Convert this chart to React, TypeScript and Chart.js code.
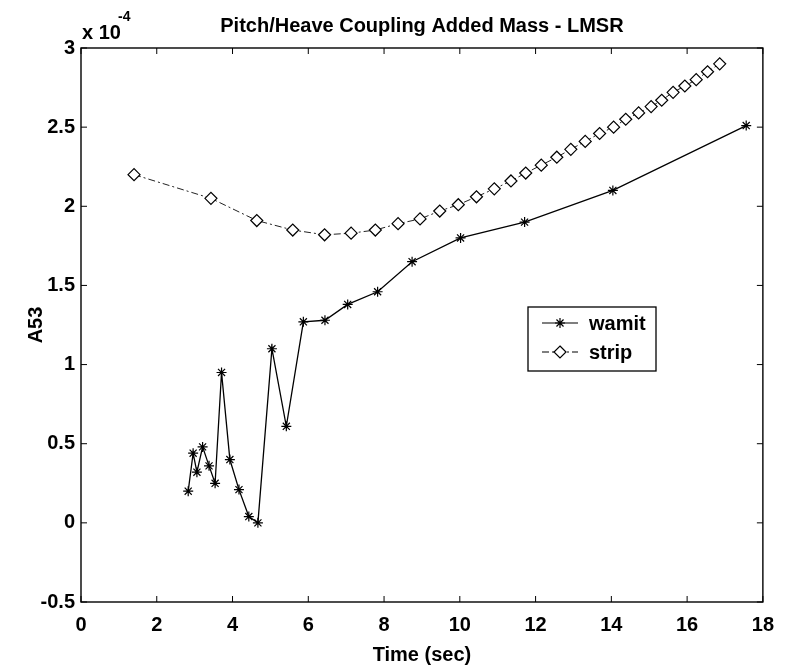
import React, { useEffect, useRef } from 'react';
import { Chart, registerables } from 'chart.js';

Chart.register(...registerables);

// ---- data (A53 values in units of 1e-4) ----
const wamitTime = [2.83, 2.96, 3.06, 3.21, 3.38, 3.54, 3.71, 3.93, 4.17, 4.43, 4.67, 5.04, 5.42, 5.87, 6.44, 7.04, 7.83, 8.74, 10.02, 11.71, 14.04, 17.56];
const wamitA53 = [0.20, 0.44, 0.32, 0.48, 0.36, 0.25, 0.95, 0.40, 0.21, 0.04, 0.00, 1.10, 0.61, 1.27, 1.28, 1.38, 1.46, 1.65, 1.80, 1.90, 2.10, 2.51];

const stripTime = [1.40, 3.43, 4.64, 5.59, 6.43, 7.13, 7.77, 8.37, 8.95, 9.47, 9.96, 10.44, 10.91, 11.35, 11.74, 12.15, 12.56, 12.93, 13.31, 13.69, 14.06, 14.38, 14.72, 15.05, 15.33, 15.63, 15.94, 16.24, 16.54, 16.86];
const stripA53 = [2.20, 2.05, 1.91, 1.85, 1.82, 1.83, 1.85, 1.89, 1.92, 1.97, 2.01, 2.06, 2.11, 2.16, 2.21, 2.26, 2.31, 2.36, 2.41, 2.46, 2.50, 2.55, 2.59, 2.63, 2.67, 2.72, 2.76, 2.80, 2.85, 2.90];

const seriesNames = ['wamit', 'strip'];
const xRange = [0, 18];
const xStep = 2;
const yRange = [-0.5, 3];
const yStep = 0.5;
const chartTitle = 'Pitch/Heave Coupling Added Mass - LMSR';
const xAxisTitle = 'Time (sec)';
const yAxisTitle = 'A53';
const exponentBase = 'x 10';
const exponentPower = '-4';

const FONT = '"Liberation Sans", Arial, Helvetica, sans-serif';

function drawStar(ctx: CanvasRenderingContext2D, x: number, y: number, r: number) {
  ctx.beginPath();
  ctx.moveTo(x - r, y); ctx.lineTo(x + r, y);
  ctx.moveTo(x, y - r); ctx.lineTo(x, y + r);
  const d = r * Math.SQRT1_2;
  ctx.moveTo(x - d, y - d); ctx.lineTo(x + d, y + d);
  ctx.moveTo(x - d, y + d); ctx.lineTo(x + d, y - d);
  ctx.stroke();
}

function drawDiamond(ctx: CanvasRenderingContext2D, x: number, y: number, r: number) {
  ctx.beginPath();
  ctx.moveTo(x, y - r); ctx.lineTo(x + r, y); ctx.lineTo(x, y + r); ctx.lineTo(x - r, y); ctx.closePath();
  ctx.fillStyle = '#fff';
  ctx.fill();
  ctx.stroke();
}

const framePlugin = {
  id: 'matlabFrame',
  afterDraw(chart: any) {
    const { ctx, chartArea, scales } = chart;
    const { left, right, top, bottom } = chartArea;
    ctx.save();
    ctx.strokeStyle = '#000';
    ctx.lineWidth = 1.4;
    ctx.setLineDash([]);
    ctx.strokeRect(left, top, right - left, bottom - top);
    const tl = 6;
    ctx.lineWidth = 1;
    ctx.beginPath();
    scales.x.ticks.forEach((t: any) => {
      const p = scales.x.getPixelForValue(t.value);
      ctx.moveTo(p, bottom); ctx.lineTo(p, bottom - tl);
      ctx.moveTo(p, top); ctx.lineTo(p, top + tl);
    });
    scales.y.ticks.forEach((t: any) => {
      const p = scales.y.getPixelForValue(t.value);
      ctx.moveTo(left, p); ctx.lineTo(left + tl, p);
      ctx.moveTo(right, p); ctx.lineTo(right - tl, p);
    });
    ctx.stroke();

    // exponent label
    ctx.fillStyle = '#000';
    ctx.textAlign = 'left';
    ctx.textBaseline = 'middle';
    ctx.font = `bold 20px ${FONT}`;
    ctx.fillText(exponentBase, left + 1, top - 15);
    ctx.font = `bold 14px ${FONT}`;
    ctx.fillText(exponentPower, left + 37, top - 31);

    // legend
    const bx = left + 447;
    const by = top + 259;
    const bw = 128;
    const bh = 64;
    ctx.fillStyle = '#fff';
    ctx.fillRect(bx, by, bw, bh);
    ctx.strokeStyle = '#000';
    ctx.lineWidth = 1.3;
    ctx.strokeRect(bx, by, bw, bh);
    const rows = [by + 16, by + 45];
    rows.forEach((ry, i) => {
      ctx.strokeStyle = '#000';
      ctx.lineWidth = 1.2;
      if (i === 1) ctx.setLineDash([7, 3, 2, 3]); else ctx.setLineDash([]);
      ctx.beginPath();
      ctx.moveTo(bx + 14, ry); ctx.lineTo(bx + 50, ry);
      ctx.stroke();
      ctx.setLineDash([]);
      if (i === 0) drawStar(ctx, bx + 32, ry, 5); else drawDiamond(ctx, bx + 32, ry, 6);
      ctx.fillStyle = '#000';
      ctx.font = `bold 20px ${FONT}`;
      ctx.textAlign = 'left';
      ctx.textBaseline = 'middle';
      ctx.fillText(seriesNames[i], bx + 61, ry + 1);
    });
    ctx.restore();
  },
};

export default function App() {
  const canvasRef = useRef<HTMLCanvasElement | null>(null);

  useEffect(() => {
    const canvas = canvasRef.current;
    if (!canvas) return;
    const chart = new Chart(canvas, {
      type: 'scatter',
      data: {
        datasets: [
          {
            label: seriesNames[0],
            data: wamitTime.map((t, i) => ({ x: t, y: wamitA53[i] })),
            showLine: true,
            borderColor: '#000',
            borderWidth: 1.3,
            pointStyle: 'star',
            pointRadius: 5,
            pointBorderColor: '#000',
            pointBorderWidth: 1.2,
            pointBackgroundColor: '#000',
            tension: 0,
          },
          {
            label: seriesNames[1],
            data: stripTime.map((t, i) => ({ x: t, y: stripA53[i] })),
            showLine: true,
            borderColor: '#222',
            borderWidth: 1,
            borderDash: [7, 3, 2, 3],
            pointStyle: 'rectRot',
            pointRadius: 6,
            pointBorderColor: '#000',
            pointBorderWidth: 1.2,
            pointBackgroundColor: '#fff',
            tension: 0,
          },
        ],
      } as any,
      options: {
        animation: false,
        responsive: false,
        layout: { padding: { left: 0, right: 14, top: 0, bottom: 0 } },
        plugins: {
          legend: { display: false },
          tooltip: { enabled: false },
          title: {
            display: true,
            text: chartTitle,
            fullSize: false,
            color: '#000',
            font: { family: FONT, size: 20, weight: 'bold' },
            padding: { top: 14, bottom: 10 },
          },
        },
        scales: {
          x: {
            type: 'linear',
            min: xRange[0],
            max: xRange[1],
            ticks: {
              stepSize: xStep,
              color: '#000',
              font: { family: FONT, size: 20, weight: 'bold' },
              padding: 11,
              maxRotation: 0,
            },
            grid: { display: false, drawTicks: false },
            border: { display: false },
            title: {
              display: true,
              text: xAxisTitle,
              color: '#000',
              font: { family: FONT, size: 20, weight: 'bold' },
              padding: { top: 0, bottom: 2 },
            },
            afterFit: (s: any) => { s.height = 67; },
          },
          y: {
            type: 'linear',
            min: yRange[0],
            max: yRange[1],
            ticks: {
              stepSize: yStep,
              color: '#000',
              font: { family: FONT, size: 20, weight: 'bold' },
              padding: 6,
              callback: (v: any) => String(Math.round(Number(v) * 10) / 10),
            },
            grid: { display: false, drawTicks: false },
            border: { display: false },
            title: {
              display: true,
              text: yAxisTitle,
              color: '#000',
              font: { family: FONT, size: 20, weight: 'bold' },
              padding: { top: 24, bottom: 0 },
            },
            afterFit: (s: any) => { s.width = 81; },
          },
        },
      } as any,
      plugins: [framePlugin],
    });
    return () => chart.destroy();
  }, []);

  return (
    <div style={{ position: 'absolute', left: 0, top: 0, width: 785, height: 669, background: '#fff' }}>
      <canvas ref={canvasRef} width={785} height={669} style={{ display: 'block' }} />
    </div>
  );
}
